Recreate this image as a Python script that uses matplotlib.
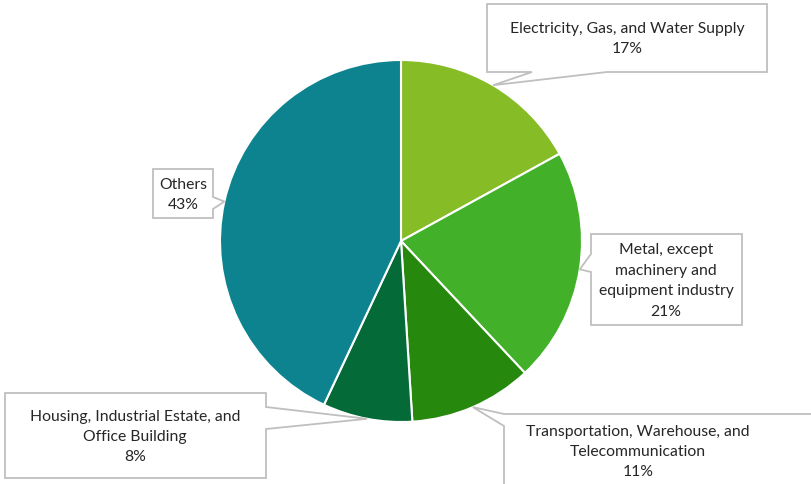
import numpy as np
import matplotlib.pyplot as plt
from matplotlib.patches import Polygon

labels = ["Electricity, Gas, and Water Supply",
          "Metal, except\nmachinery and\nequipment industry",
          "Transportation, Warehouse, and\nTelecommunication",
          "Housing, Industrial Estate, and\nOffice Building",
          "Others"]
shares = [17, 21, 11, 8, 43]
colors = ["#86BC25", "#43B02A", "#26890D", "#046A38", "#0D8390"]

# callout boxes in pixel units (x0, x1, top, bottom), pointer side, base span, text centre
boxes = [
    ((487, 767, 5, 73), "bottom", (532, 607), (627, 39)),
    ((591, 742, 235, 326), "left", (255, 273), (666, 281)),
    ((504, 840, 415, 500), "left", (415, 427), (638, 452)),
    ((5, 266, 394, 479), "right", (408, 430), (135, 437)),
    ((153, 213, 170, 219), "right", (198, 210), (183, 195)),
]

W, H = 812, 485
cx, cy, r = 401, H - 242, 181

fig = plt.figure(figsize=(W / 100, H / 100), dpi=100)
ax = fig.add_axes([0, 0, 1, 1])

wedges, _ = ax.pie(shares, colors=colors, startangle=90, counterclock=False,
                   radius=r, center=(cx, cy), frame=True,
                   wedgeprops=dict(edgecolor="white", linewidth=1.5))
ax.set_xlim(0, W)
ax.set_ylim(0, H)
ax.set_aspect("equal")
ax.axis("off")

for w, lab, val, (rect, side, base, tc) in zip(wedges, labels, shares, boxes):
    ang = np.deg2rad((w.theta1 + w.theta2) / 2)
    tip = (cx + r * np.cos(ang), cy + r * np.sin(ang))
    x0, x1, t, b = rect
    y0, y1 = H - b, H - t
    if side == "bottom":
        pts = [(x0, y1), (x1, y1), (x1, y0), (base[1], y0), tip, (base[0], y0), (x0, y0)]
    elif side == "left":
        pts = [(x0, y1), (x1, y1), (x1, y0), (x0, y0), (x0, H - base[1]), tip, (x0, H - base[0])]
    else:
        pts = [(x0, y1), (x1, y1), (x1, H - base[0]), tip, (x1, H - base[1]), (x1, y0), (x0, y0)]
    ax.add_patch(Polygon(pts, closed=True, facecolor="white", edgecolor="#BFBFBF",
                         linewidth=1.3, zorder=3, clip_on=False))
    ax.text(tc[0], H - tc[1], f"{lab}\n{val}%", ha="center", va="center", fontsize=11.3,
            family="Lato", color="#262626", linespacing=1.58, zorder=4)

fig.savefig("out.png", dpi=100)
